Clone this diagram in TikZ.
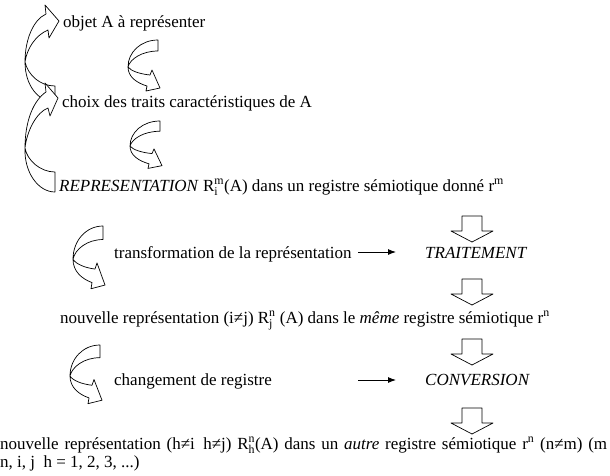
\documentclass[tikz,border=0pt]{standalone}
\usepackage{fontspec}
\usepackage{amsmath}
\setmainfont{Liberation Serif}
\usetikzlibrary{arrows.meta}
\newcommand\supsubtxt[2]{$^{\text{#1}}_{\text{#2}}$}
\begin{document}
\begin{tikzpicture}[x=1pt,y=-1pt,line join=round,
  txt/.style={anchor=base west,inner sep=0pt,font=\fontsize{17}{18}\selectfont},
  band/.style={draw=black,fill=white,line width=0.7pt},
  conn/.style={-{Latex[length=8pt,width=6pt]},line width=0.9pt},
  carrow/.pic={\path[band] (30,0) .. controls (13,0) and (0,12) .. (0,27)
      .. controls (0,37) and (9,43) .. (19,46) -- (18,51) -- (32,48) -- (24,30) -- (22,35)
      .. controls (12,34) and (3,31) .. (0,27) .. controls (2,19) and (14,11) .. (30,11) -- cycle;},
  downarrow/.pic={\path[band] (-10,0) -- (10,0) -- (10,15) -- (21,15) -- (0,26) -- (-21,15) -- (-10,15) -- cycle;}
]
\useasboundingbox (0,0) rectangle (610,475);
% texts
\node[txt] (objet) at (63,27) {objet A à représenter};
\node[txt] (choix) at (62,107) {choix des traits caractéristiques de A};
\node[txt] (repr) at (59,191) {\textit{REPRESENTATION} R\supsubtxt{m}{i}(A) dans un registre sémiotique donné r\textsuperscript{m}};
\node[txt] (transf) at (114,258) {transformation de la représentation};
\node[txt] (trait) at (425,258) {\textit{TRAITEMENT}};
\node[txt] (nouv1) at (60,323) {nouvelle représentation (i≠j) R\supsubtxt{n}{j} (A) dans le \textit{même} registre sémiotique r\textsuperscript{n}};
\node[txt] (chang) at (114,385) {changement de registre};
\node[txt] (conv) at (425,385) {\textit{CONVERSION}};
\node[txt] (nouv2) at (0,449) {\makebox[607pt][s]{nouvelle représentation (h≠i\enspace h≠j) R\supsubtxt{n}{h}(A) dans un \textit{autre} registre sémiotique r\textsuperscript{n} (n≠m) (m}};
\node[txt] (nouv3) at (0,467) {n, i, j\enspace h = 1, 2, 3, ...)};
% horizontal arrows
\coordinate (a1) at (358,252);
\coordinate (a2) at (358,380);
\draw[conn,shorten >=29pt] (a1) -- (a1 -| trait.west);
\draw[conn,shorten >=29pt] (a2) -- (a2 -| conv.west);
% block arrows
\pic at (472,216) {downarrow};
\pic at (472,279) {downarrow};
\pic at (472,339) {downarrow};
\pic at (472,408) {downarrow};
% small curved arrows
\pic at (128,40) {carrow};
\pic[yscale=0.93] at (130,121) {carrow};
\pic[yscale=1.23] at (73,226) {carrow};
\pic[yscale=1.15] at (70,345) {carrow};
% big curved arrows
\path[band] (55,86) -- (55,102) .. controls (38,102) and (25,85) .. (25,62)
  .. controls (25,40) and (33,20) .. (46,14) -- (45,5) -- (59,21) -- (49,38) -- (48,30)
  .. controls (36,35) and (27,48) .. (25,62) .. controls (28,75) and (40,86) .. (55,86) -- cycle;
\path[band] (55,172) -- (55,192) .. controls (38,192) and (24,172) .. (25,148)
  .. controls (25,120) and (34,100) .. (46,92) -- (45,83) -- (58,98) -- (50,116) -- (48,108)
  .. controls (37,112) and (27,130) .. (25,148) .. controls (27,160) and (40,172) .. (55,172) -- cycle;
\end{tikzpicture}
\end{document}
